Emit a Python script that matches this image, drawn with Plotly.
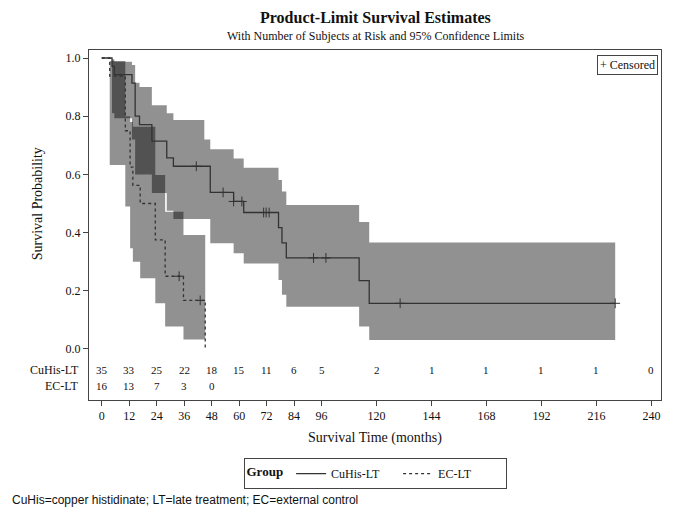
import plotly.graph_objects as go

# ---------------- data ----------------
# Kaplan-Meier step curves (time in months, survival probability)
cu_times = [0, 4.5, 5.5, 13.2, 14.6, 16.5, 21.9, 28.4, 31.3, 47.4, 57.6, 62.0, 77.2, 78.7, 80.6, 112.4, 116.8]
cu_surv = [1.0, 0.971, 0.943, 0.914, 0.800, 0.771, 0.714, 0.657, 0.628, 0.538, 0.507, 0.469, 0.417, 0.365, 0.313, 0.235, 0.157]
cu_end = 224.2

ec_times = [0, 3.5, 10.3, 12.4, 13.6, 16.8, 23.4, 27.7, 35.7, 45.2]
ec_surv = [1.0, 0.9375, 0.75, 0.625, 0.5625, 0.5, 0.375, 0.25, 0.167, 0.0]

# censored observations
cu_cens_t = [41.3, 53.0, 57.6, 61.2, 70.7, 71.8, 73.1, 92.5, 97.9, 130.3, 224.2]
cu_cens_s = [0.628, 0.538, 0.507, 0.507, 0.469, 0.469, 0.469, 0.313, 0.313, 0.157, 0.157]
ec_cens_t = [33.8, 43.0]
ec_cens_s = [0.25, 0.167]

# 95% confidence bands (step start times, upper, lower)
cu_band_t = [4.5, 5.5, 13.2, 14.6, 16.5, 21.9, 28.4, 31.3, 44.8, 47.4, 57.6, 62.0, 77.2, 78.7, 80.6, 112.4, 116.8]
cu_upper = [0.996, 0.987, 0.976, 0.915, 0.90, 0.838, 0.81, 0.787, 0.72, 0.686, 0.655, 0.623, 0.581, 0.541, 0.495, 0.436, 0.366]
cu_lower = [0.81, 0.793, 0.72, 0.60, 0.60, 0.536, 0.475, 0.447, 0.447, 0.363, 0.329, 0.294, 0.237, 0.186, 0.145, 0.077, 0.031]
cu_band_end = 224.2

ec_band_t = [3.5, 10.3, 12.4, 13.6, 16.8, 23.4, 27.7, 35.7]
ec_upper = [0.99, 0.80, 0.78, 0.764, 0.764, 0.598, 0.472, 0.392]
ec_lower = [0.632, 0.49, 0.346, 0.30, 0.243, 0.157, 0.077, 0.033]
ec_band_end = 45.2

# number at risk table
risk_ticks = [0, 12, 24, 36, 48, 60, 72, 84, 96, 120, 144, 168, 192, 216, 240]
cu_risk = [35, 33, 25, 22, 18, 15, 11, 6, 5, 2, 1, 1, 1, 1, 0]
ec_risk_ticks = [0, 12, 24, 36, 48]
ec_risk = [16, 13, 7, 3, 0]

groups = ["CuHis-LT", "EC-LT"]
y_ticks = [0.0, 0.2, 0.4, 0.6, 0.8, 1.0]

SERIF = "Liberation Serif"
BAND = "rgba(0,0,0,0.43)"
LINE = "#333333"
TXT = "#111111"


def band_polygon(ts, up, lo, end):
    xs, ys = [], []
    edges = ts + [end]
    for i in range(len(ts)):
        xs += [edges[i], edges[i + 1]]
        ys += [up[i], up[i]]
    for i in reversed(range(len(ts))):
        xs += [edges[i + 1], edges[i]]
        ys += [lo[i], lo[i]]
    return xs, ys


fig = go.Figure()

for ts, up, lo, end in [(cu_band_t, cu_upper, cu_lower, cu_band_end),
                        (ec_band_t, ec_upper, ec_lower, ec_band_end)]:
    bx, by = band_polygon(ts, up, lo, end)
    fig.add_trace(go.Scatter(x=bx, y=by, fill="toself", fillcolor=BAND, mode="none",
                             showlegend=False, hoverinfo="skip"))

fig.add_trace(go.Scatter(x=cu_times + [cu_end], y=cu_surv + [cu_surv[-1]], mode="lines",
                         line=dict(color=LINE, width=1.3, shape="hv"), name=groups[0]))
fig.add_trace(go.Scatter(x=ec_times, y=ec_surv, mode="lines",
                         line=dict(color=LINE, width=1.3, shape="hv", dash="3px,3px"), name=groups[1]))

for ct, cs in [(cu_cens_t, cu_cens_s), (ec_cens_t, ec_cens_s)]:
    fig.add_trace(go.Scatter(x=ct, y=cs, mode="markers", showlegend=False, hoverinfo="skip",
                             marker=dict(symbol="cross-thin", size=7, color=LINE,
                                         line=dict(color=LINE, width=1))))


def note(text, x, y, xref="paper", yref="paper", size=12, family=SERIF, **kw):
    d = dict(x=x, y=y, xref=xref, yref=yref, text=text, showarrow=False,
             xanchor="center", yanchor="middle", font=dict(family=family, size=size, color=TXT))
    d.update(kw)
    return d


ann = []
# risk table
for t, n in zip(risk_ticks, cu_risk):
    ann.append(note(str(n), t, -0.072, xref="x", yref="y", size=11))
for t, n in zip(ec_risk_ticks, ec_risk):
    ann.append(note(str(n), t, -0.127, xref="x", yref="y", size=11))
for g, yy in zip(groups, [-0.072, -0.127]):
    ann.append(note(g, -0.014, yy, yref="y", xanchor="right"))

# titles
ann.append(note("<b>Product-Limit Survival Estimates</b>", 0.5, 1.094, size=16))
ann.append(note("With Number of Subjects at Risk and 95% Confidence Limits", 0.5, 1.04))
ann.append(note("Survival Probability", -0.0895, 0.5, yref="y", size=14, textangle=-90))
ann.append(note("Survival Time (months)", 0.5, -0.109, size=14))
ann.append(note("+ Censored", 0.995, 0.986, xanchor="right", yanchor="top",
                bordercolor="#444", borderwidth=1, borderpad=2))
ann.append(note("CuHis=copper histidinate; LT=late treatment; EC=external control", -0.1386, -0.2857,
                family="Liberation Sans", xanchor="left"))

fig.update_layout(
    width=673, height=517,
    margin=dict(l=89, r=12, t=50, b=117),
    plot_bgcolor="white", paper_bgcolor="white",
    annotations=ann,
    showlegend=True,
    legend=dict(orientation="h", x=0.5, xanchor="center", y=-0.166, yanchor="top",
                bordercolor="#444", borderwidth=1, entrywidth=62, entrywidthmode="pixels",
                font=dict(family=SERIF, size=12, color=TXT),
                title=dict(text="<b>Group</b>", font=dict(family=SERIF, size=13, color=TXT))),
)
fig.update_xaxes(range=[-5.55, 244.2], tickvals=risk_ticks, ticks="outside", ticklen=5,
                 tickcolor="#444", showline=True, linecolor="#444", linewidth=1, mirror=True,
                 showgrid=False, zeroline=False, tickfont=dict(family=SERIF, size=12, color=TXT))
fig.update_yaxes(range=[-0.1753, 1.0275], tickvals=y_ticks, tickformat=".1f", ticks="outside", ticklen=5,
                 tickcolor="#444", showline=True, linecolor="#444", linewidth=1, mirror=True,
                 showgrid=False, zeroline=False, tickfont=dict(family=SERIF, size=12, color=TXT))

fig.write_html("out.html")
